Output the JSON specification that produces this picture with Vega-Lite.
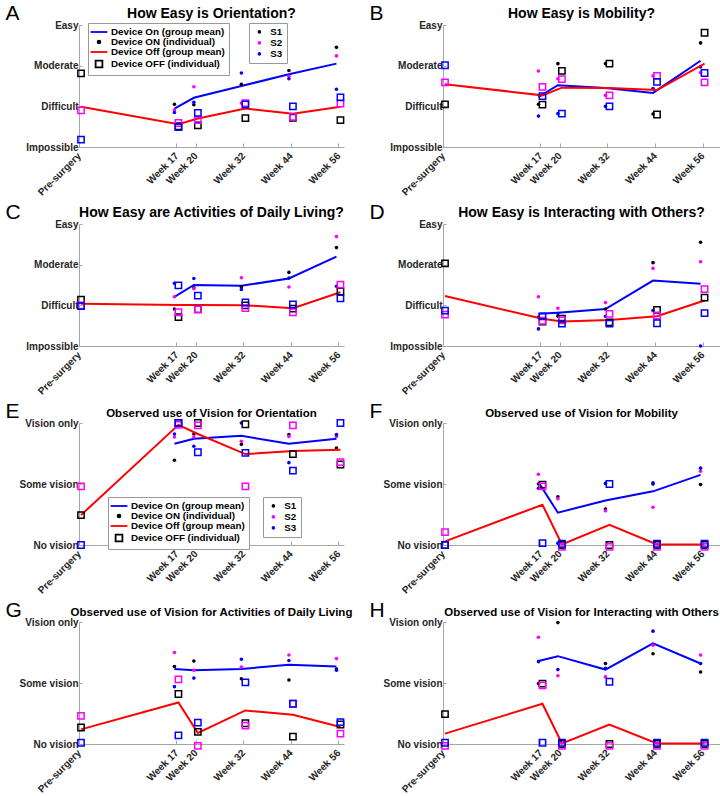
{
"$schema":"https://vega.github.io/schema/vega-lite/v6.json",
"padding":{"left":5,"top":2,"right":0,"bottom":0},
"background":"white",
"config":{
 "font":"Liberation Sans",
 "view":{"stroke":null},
 "axis":{"domainColor":"#a6a6a6","tickColor":"#a6a6a6","labelColor":"#262626","labelFont":"Liberation Sans","labelFontSize":10,"labelFontWeight":"bold","grid":false,"domainWidth":1},
 "axisY":{"tickSize":-3,"labelPadding":4,"titleAngle":0,"titleAlign":"left","titleBaseline":"alphabetic","titleX":-74,"titleY":-6,"titleFontSize":21,"titleFontWeight":"normal","titleColor":"#000000","titleFont":"Liberation Sans"},
 "axisX":{"labelAngle":-45,"labelAlign":"right","labelBaseline":"middle","labelPadding":11,"tickSize":-4,"title":null,"labelOverlap":false,"labelFlush":false},
 "title":{"font":"Liberation Sans","fontSize":14,"fontWeight":"bold","color":"#000000","offset":-19},
 "legend":{"fillColor":"#ffffff","strokeColor":"#999999","padding":4,"labelFont":"Liberation Sans","labelFontSize":9.8,"labelFontWeight":"bold","labelColor":"#000000","rowPadding":0}
},
"datasets":{
"pts":[
{"p":"A","d":"ON","s":"S1","x":15.1,"v":1.05},{"p":"A","d":"ON","s":"S1","x":20,"v":1.04},{"p":"A","d":"ON","s":"S1","x":32,"v":1.54},{"p":"A","d":"ON","s":"S1","x":44,"v":1.88},{"p":"A","d":"ON","s":"S1","x":56,"v":2.45},
{"p":"A","d":"ON","s":"S2","x":15.1,"v":0.91},{"p":"A","d":"ON","s":"S2","x":20,"v":1.48},{"p":"A","d":"ON","s":"S2","x":32,"v":1.08},{"p":"A","d":"ON","s":"S2","x":44,"v":1.74},{"p":"A","d":"ON","s":"S2","x":56,"v":2.24},
{"p":"A","d":"ON","s":"S3","x":15.1,"v":0.85},{"p":"A","d":"ON","s":"S3","x":20,"v":1.10},{"p":"A","d":"ON","s":"S3","x":32,"v":1.82},{"p":"A","d":"ON","s":"S3","x":44,"v":1.68},{"p":"A","d":"ON","s":"S3","x":56,"v":1.42},
{"p":"A","d":"OFF","s":"S1","x":-9.5,"v":1.81},{"p":"A","d":"OFF","s":"S1","x":15.1,"v":0.51},{"p":"A","d":"OFF","s":"S1","x":20,"v":0.53},{"p":"A","d":"OFF","s":"S1","x":32,"v":0.71},{"p":"A","d":"OFF","s":"S1","x":44,"v":0.72},{"p":"A","d":"OFF","s":"S1","x":56,"v":0.66},
{"p":"A","d":"OFF","s":"S2","x":-9.5,"v":0.90},{"p":"A","d":"OFF","s":"S2","x":15.1,"v":0.59},{"p":"A","d":"OFF","s":"S2","x":20,"v":0.66},{"p":"A","d":"OFF","s":"S2","x":32,"v":1.08},{"p":"A","d":"OFF","s":"S2","x":44,"v":0.74},{"p":"A","d":"OFF","s":"S2","x":56,"v":1.07},
{"p":"A","d":"OFF","s":"S3","x":-9.5,"v":0.18},{"p":"A","d":"OFF","s":"S3","x":15.1,"v":0.49},{"p":"A","d":"OFF","s":"S3","x":20,"v":0.84},{"p":"A","d":"OFF","s":"S3","x":32,"v":1.05},{"p":"A","d":"OFF","s":"S3","x":44,"v":1.00},{"p":"A","d":"OFF","s":"S3","x":56,"v":1.22},

{"p":"B","d":"ON","s":"S1","x":15.1,"v":1.05},{"p":"B","d":"ON","s":"S1","x":20,"v":2.05},{"p":"B","d":"ON","s":"S1","x":32,"v":2.05},{"p":"B","d":"ON","s":"S1","x":44,"v":0.81},{"p":"B","d":"ON","s":"S1","x":56,"v":2.56},
{"p":"B","d":"ON","s":"S2","x":15.1,"v":1.87},{"p":"B","d":"ON","s":"S2","x":20,"v":1.68},{"p":"B","d":"ON","s":"S2","x":32,"v":1.27},{"p":"B","d":"ON","s":"S2","x":44,"v":1.75},{"p":"B","d":"ON","s":"S2","x":56,"v":1.83},
{"p":"B","d":"ON","s":"S3","x":15.1,"v":0.76},{"p":"B","d":"ON","s":"S3","x":20,"v":0.82},{"p":"B","d":"ON","s":"S3","x":32,"v":1.00},{"p":"B","d":"ON","s":"S3","x":44,"v":1.44},{"p":"B","d":"ON","s":"S3","x":56,"v":1.97},
{"p":"B","d":"OFF","s":"S1","x":-9.5,"v":1.05},{"p":"B","d":"OFF","s":"S1","x":15.1,"v":1.04},{"p":"B","d":"OFF","s":"S1","x":20,"v":1.87},{"p":"B","d":"OFF","s":"S1","x":32,"v":2.05},{"p":"B","d":"OFF","s":"S1","x":44,"v":0.80},{"p":"B","d":"OFF","s":"S1","x":56,"v":2.81},
{"p":"B","d":"OFF","s":"S2","x":-9.5,"v":1.59},{"p":"B","d":"OFF","s":"S2","x":15.1,"v":1.48},{"p":"B","d":"OFF","s":"S2","x":20,"v":1.67},{"p":"B","d":"OFF","s":"S2","x":32,"v":1.27},{"p":"B","d":"OFF","s":"S2","x":44,"v":1.75},{"p":"B","d":"OFF","s":"S2","x":56,"v":1.59},
{"p":"B","d":"OFF","s":"S3","x":-9.5,"v":2.01},{"p":"B","d":"OFF","s":"S3","x":15.1,"v":1.25},{"p":"B","d":"OFF","s":"S3","x":20,"v":0.82},{"p":"B","d":"OFF","s":"S3","x":32,"v":1.00},{"p":"B","d":"OFF","s":"S3","x":44,"v":1.60},{"p":"B","d":"OFF","s":"S3","x":56,"v":1.82},

{"p":"C","d":"ON","s":"S1","x":15.1,"v":0.91},{"p":"C","d":"ON","s":"S1","x":20,"v":1.43},{"p":"C","d":"ON","s":"S1","x":32,"v":1.45},{"p":"C","d":"ON","s":"S1","x":44,"v":1.81},{"p":"C","d":"ON","s":"S1","x":56,"v":2.42},
{"p":"C","d":"ON","s":"S2","x":15.1,"v":1.21},{"p":"C","d":"ON","s":"S2","x":20,"v":1.41},{"p":"C","d":"ON","s":"S2","x":32,"v":1.68},{"p":"C","d":"ON","s":"S2","x":44,"v":1.45},{"p":"C","d":"ON","s":"S2","x":56,"v":2.69},
{"p":"C","d":"ON","s":"S3","x":15.1,"v":1.54},{"p":"C","d":"ON","s":"S3","x":20,"v":1.66},{"p":"C","d":"ON","s":"S3","x":32,"v":1.39},{"p":"C","d":"ON","s":"S3","x":44,"v":1.67},{"p":"C","d":"ON","s":"S3","x":56,"v":1.47},
{"p":"C","d":"OFF","s":"S1","x":-9.5,"v":1.14},{"p":"C","d":"OFF","s":"S1","x":15.1,"v":0.71},{"p":"C","d":"OFF","s":"S1","x":20,"v":0.90},{"p":"C","d":"OFF","s":"S1","x":32,"v":1.00},{"p":"C","d":"OFF","s":"S1","x":44,"v":0.92},{"p":"C","d":"OFF","s":"S1","x":56,"v":1.34},
{"p":"C","d":"OFF","s":"S2","x":-9.5,"v":1.00},{"p":"C","d":"OFF","s":"S2","x":15.1,"v":0.83},{"p":"C","d":"OFF","s":"S2","x":20,"v":0.90},{"p":"C","d":"OFF","s":"S2","x":32,"v":0.93},{"p":"C","d":"OFF","s":"S2","x":44,"v":0.83},{"p":"C","d":"OFF","s":"S2","x":56,"v":1.51},
{"p":"C","d":"OFF","s":"S3","x":-9.5,"v":0.98},{"p":"C","d":"OFF","s":"S3","x":15.1,"v":1.49},{"p":"C","d":"OFF","s":"S3","x":20,"v":1.24},{"p":"C","d":"OFF","s":"S3","x":32,"v":1.07},{"p":"C","d":"OFF","s":"S3","x":44,"v":1.02},{"p":"C","d":"OFF","s":"S3","x":56,"v":1.17},

{"p":"D","d":"ON","s":"S1","x":15.1,"v":0.71},{"p":"D","d":"ON","s":"S1","x":20,"v":0.73},{"p":"D","d":"ON","s":"S1","x":32,"v":0.91},{"p":"D","d":"ON","s":"S1","x":44,"v":2.05},{"p":"D","d":"ON","s":"S1","x":56,"v":2.55},
{"p":"D","d":"ON","s":"S2","x":15.1,"v":1.21},{"p":"D","d":"ON","s":"S2","x":20,"v":0.93},{"p":"D","d":"ON","s":"S2","x":32,"v":1.07},{"p":"D","d":"ON","s":"S2","x":44,"v":1.91},{"p":"D","d":"ON","s":"S2","x":56,"v":2.07},
{"p":"D","d":"ON","s":"S3","x":15.1,"v":0.42},{"p":"D","d":"ON","s":"S3","x":20,"v":0.80},{"p":"D","d":"ON","s":"S3","x":32,"v":0.73},{"p":"D","d":"ON","s":"S3","x":44,"v":0.87},{"p":"D","d":"ON","s":"S3","x":56,"v":0.00},
{"p":"D","d":"OFF","s":"S1","x":-9.5,"v":2.03},{"p":"D","d":"OFF","s":"S1","x":15.1,"v":0.60},{"p":"D","d":"OFF","s":"S1","x":20,"v":0.67},{"p":"D","d":"OFF","s":"S1","x":32,"v":0.58},{"p":"D","d":"OFF","s":"S1","x":44,"v":0.89},{"p":"D","d":"OFF","s":"S1","x":56,"v":1.19},
{"p":"D","d":"OFF","s":"S2","x":-9.5,"v":0.77},{"p":"D","d":"OFF","s":"S2","x":15.1,"v":0.62},{"p":"D","d":"OFF","s":"S2","x":20,"v":0.63},{"p":"D","d":"OFF","s":"S2","x":32,"v":0.79},{"p":"D","d":"OFF","s":"S2","x":44,"v":0.75},{"p":"D","d":"OFF","s":"S2","x":56,"v":1.40},
{"p":"D","d":"OFF","s":"S3","x":-9.5,"v":0.87},{"p":"D","d":"OFF","s":"S3","x":15.1,"v":0.73},{"p":"D","d":"OFF","s":"S3","x":20,"v":0.55},{"p":"D","d":"OFF","s":"S3","x":32,"v":0.55},{"p":"D","d":"OFF","s":"S3","x":44,"v":0.56},{"p":"D","d":"OFF","s":"S3","x":56,"v":0.81},

{"p":"E","d":"ON","s":"S1","x":15.1,"v":1.39},{"p":"E","d":"ON","s":"S1","x":20,"v":1.82},{"p":"E","d":"ON","s":"S1","x":32,"v":1.65},{"p":"E","d":"ON","s":"S1","x":44,"v":1.81},{"p":"E","d":"ON","s":"S1","x":56,"v":1.59},
{"p":"E","d":"ON","s":"S2","x":15.1,"v":1.77},{"p":"E","d":"ON","s":"S2","x":20,"v":1.77},{"p":"E","d":"ON","s":"S2","x":32,"v":1.70},{"p":"E","d":"ON","s":"S2","x":44,"v":1.78},{"p":"E","d":"ON","s":"S2","x":56,"v":1.78},
{"p":"E","d":"ON","s":"S3","x":15.1,"v":1.82},{"p":"E","d":"ON","s":"S3","x":20,"v":1.62},{"p":"E","d":"ON","s":"S3","x":32,"v":2.00},{"p":"E","d":"ON","s":"S3","x":44,"v":1.35},{"p":"E","d":"ON","s":"S3","x":56,"v":1.81},
{"p":"E","d":"OFF","s":"S1","x":-9.5,"v":0.49},{"p":"E","d":"OFF","s":"S1","x":15.1,"v":2.00},{"p":"E","d":"OFF","s":"S1","x":20,"v":2.00},{"p":"E","d":"OFF","s":"S1","x":32,"v":1.98},{"p":"E","d":"OFF","s":"S1","x":44,"v":1.49},{"p":"E","d":"OFF","s":"S1","x":56,"v":1.32},
{"p":"E","d":"OFF","s":"S2","x":-9.5,"v":0.96},{"p":"E","d":"OFF","s":"S2","x":15.1,"v":1.97},{"p":"E","d":"OFF","s":"S2","x":20,"v":1.96},{"p":"E","d":"OFF","s":"S2","x":32,"v":0.96},{"p":"E","d":"OFF","s":"S2","x":44,"v":1.96},{"p":"E","d":"OFF","s":"S2","x":56,"v":1.36},
{"p":"E","d":"OFF","s":"S3","x":-9.5,"v":0.00},{"p":"E","d":"OFF","s":"S3","x":15.1,"v":2.00},{"p":"E","d":"OFF","s":"S3","x":20,"v":1.52},{"p":"E","d":"OFF","s":"S3","x":32,"v":1.51},{"p":"E","d":"OFF","s":"S3","x":44,"v":1.22},{"p":"E","d":"OFF","s":"S3","x":56,"v":2.00},

{"p":"F","d":"ON","s":"S1","x":15.1,"v":1.00},{"p":"F","d":"ON","s":"S1","x":20,"v":0.79},{"p":"F","d":"ON","s":"S1","x":32,"v":0.59},{"p":"F","d":"ON","s":"S1","x":44,"v":1.00},{"p":"F","d":"ON","s":"S1","x":56,"v":0.99},
{"p":"F","d":"ON","s":"S2","x":15.1,"v":1.16},{"p":"F","d":"ON","s":"S2","x":20,"v":0.76},{"p":"F","d":"ON","s":"S2","x":32,"v":0.56},{"p":"F","d":"ON","s":"S2","x":44,"v":0.62},{"p":"F","d":"ON","s":"S2","x":56,"v":1.21},
{"p":"F","d":"ON","s":"S3","x":15.1,"v":0.93},{"p":"F","d":"ON","s":"S3","x":20,"v":0.03},{"p":"F","d":"ON","s":"S3","x":32,"v":1.01},{"p":"F","d":"ON","s":"S3","x":44,"v":1.02},{"p":"F","d":"ON","s":"S3","x":56,"v":1.26},
{"p":"F","d":"OFF","s":"S1","x":-9.5,"v":0.00},{"p":"F","d":"OFF","s":"S1","x":15.1,"v":0.99},{"p":"F","d":"OFF","s":"S1","x":20,"v":0.00},{"p":"F","d":"OFF","s":"S1","x":32,"v":0.00},{"p":"F","d":"OFF","s":"S1","x":44,"v":0.00},{"p":"F","d":"OFF","s":"S1","x":56,"v":0.00},
{"p":"F","d":"OFF","s":"S2","x":-9.5,"v":0.21},{"p":"F","d":"OFF","s":"S2","x":15.1,"v":0.96},{"p":"F","d":"OFF","s":"S2","x":20,"v":-0.03},{"p":"F","d":"OFF","s":"S2","x":32,"v":-0.03},{"p":"F","d":"OFF","s":"S2","x":44,"v":-0.03},{"p":"F","d":"OFF","s":"S2","x":56,"v":-0.03},
{"p":"F","d":"OFF","s":"S3","x":-9.5,"v":0.00},{"p":"F","d":"OFF","s":"S3","x":15.1,"v":0.03},{"p":"F","d":"OFF","s":"S3","x":20,"v":0.02},{"p":"F","d":"OFF","s":"S3","x":32,"v":1.00},{"p":"F","d":"OFF","s":"S3","x":44,"v":0.02},{"p":"F","d":"OFF","s":"S3","x":56,"v":0.02},

{"p":"G","d":"ON","s":"S1","x":15.1,"v":1.27},{"p":"G","d":"ON","s":"S1","x":20,"v":1.36},{"p":"G","d":"ON","s":"S1","x":32,"v":1.07},{"p":"G","d":"ON","s":"S1","x":44,"v":1.05},{"p":"G","d":"ON","s":"S1","x":56,"v":1.23},
{"p":"G","d":"ON","s":"S2","x":15.1,"v":1.50},{"p":"G","d":"ON","s":"S2","x":20,"v":1.21},{"p":"G","d":"ON","s":"S2","x":32,"v":1.26},{"p":"G","d":"ON","s":"S2","x":44,"v":1.46},{"p":"G","d":"ON","s":"S2","x":56,"v":1.40},
{"p":"G","d":"ON","s":"S3","x":15.1,"v":0.94},{"p":"G","d":"ON","s":"S3","x":20,"v":1.08},{"p":"G","d":"ON","s":"S3","x":32,"v":1.39},{"p":"G","d":"ON","s":"S3","x":44,"v":1.37},{"p":"G","d":"ON","s":"S3","x":56,"v":1.21},
{"p":"G","d":"OFF","s":"S1","x":-9.5,"v":0.27},{"p":"G","d":"OFF","s":"S1","x":15.1,"v":0.82},{"p":"G","d":"OFF","s":"S1","x":20,"v":0.20},{"p":"G","d":"OFF","s":"S1","x":32,"v":0.34},{"p":"G","d":"OFF","s":"S1","x":44,"v":0.12},{"p":"G","d":"OFF","s":"S1","x":56,"v":0.32},
{"p":"G","d":"OFF","s":"S2","x":-9.5,"v":0.46},{"p":"G","d":"OFF","s":"S2","x":15.1,"v":1.06},{"p":"G","d":"OFF","s":"S2","x":20,"v":-0.03},{"p":"G","d":"OFF","s":"S2","x":32,"v":0.30},{"p":"G","d":"OFF","s":"S2","x":44,"v":0.66},{"p":"G","d":"OFF","s":"S2","x":56,"v":0.17},
{"p":"G","d":"OFF","s":"S3","x":-9.5,"v":0.02},{"p":"G","d":"OFF","s":"S3","x":15.1,"v":0.14},{"p":"G","d":"OFF","s":"S3","x":20,"v":0.35},{"p":"G","d":"OFF","s":"S3","x":32,"v":1.01},{"p":"G","d":"OFF","s":"S3","x":44,"v":0.66},{"p":"G","d":"OFF","s":"S3","x":56,"v":0.36},

{"p":"H","d":"ON","s":"S1","x":15.1,"v":0.99},{"p":"H","d":"ON","s":"S1","x":20,"v":1.99},{"p":"H","d":"ON","s":"S1","x":32,"v":1.32},{"p":"H","d":"ON","s":"S1","x":44,"v":1.48},{"p":"H","d":"ON","s":"S1","x":56,"v":1.18},
{"p":"H","d":"ON","s":"S2","x":15.1,"v":1.75},{"p":"H","d":"ON","s":"S2","x":20,"v":1.12},{"p":"H","d":"ON","s":"S2","x":32,"v":1.10},{"p":"H","d":"ON","s":"S2","x":44,"v":1.62},{"p":"H","d":"ON","s":"S2","x":56,"v":1.46},
{"p":"H","d":"ON","s":"S3","x":15.1,"v":1.35},{"p":"H","d":"ON","s":"S3","x":20,"v":1.22},{"p":"H","d":"ON","s":"S3","x":32,"v":1.24},{"p":"H","d":"ON","s":"S3","x":44,"v":1.85},{"p":"H","d":"ON","s":"S3","x":56,"v":1.32},
{"p":"H","d":"OFF","s":"S1","x":-9.5,"v":0.49},{"p":"H","d":"OFF","s":"S1","x":15.1,"v":0.99},{"p":"H","d":"OFF","s":"S1","x":20,"v":0.00},{"p":"H","d":"OFF","s":"S1","x":32,"v":0.00},{"p":"H","d":"OFF","s":"S1","x":44,"v":0.00},{"p":"H","d":"OFF","s":"S1","x":56,"v":0.00},
{"p":"H","d":"OFF","s":"S2","x":-9.5,"v":-0.03},{"p":"H","d":"OFF","s":"S2","x":15.1,"v":0.96},{"p":"H","d":"OFF","s":"S2","x":20,"v":-0.03},{"p":"H","d":"OFF","s":"S2","x":32,"v":-0.03},{"p":"H","d":"OFF","s":"S2","x":44,"v":-0.03},{"p":"H","d":"OFF","s":"S2","x":56,"v":-0.03},
{"p":"H","d":"OFF","s":"S3","x":-9.5,"v":0.02},{"p":"H","d":"OFF","s":"S3","x":15.1,"v":0.02},{"p":"H","d":"OFF","s":"S3","x":20,"v":0.02},{"p":"H","d":"OFF","s":"S3","x":32,"v":1.02},{"p":"H","d":"OFF","s":"S3","x":44,"v":0.02},{"p":"H","d":"OFF","s":"S3","x":56,"v":0.02}
],
"mean":[
{"p":"A","d":"ON","x":15.1,"v":0.945},{"p":"A","d":"ON","x":20,"v":1.21},{"p":"A","d":"ON","x":32,"v":1.50},{"p":"A","d":"ON","x":44,"v":1.79},{"p":"A","d":"ON","x":56,"v":2.05},
{"p":"A","d":"OFF","x":-9.5,"v":0.99},{"p":"A","d":"OFF","x":15.1,"v":0.56},{"p":"A","d":"OFF","x":20,"v":0.70},{"p":"A","d":"OFF","x":32,"v":0.945},{"p":"A","d":"OFF","x":44,"v":0.82},{"p":"A","d":"OFF","x":56,"v":0.99},
{"p":"B","d":"ON","x":15.1,"v":1.23},{"p":"B","d":"ON","x":20,"v":1.52},{"p":"B","d":"ON","x":32,"v":1.45},{"p":"B","d":"ON","x":44,"v":1.33},{"p":"B","d":"ON","x":56,"v":2.12},
{"p":"B","d":"OFF","x":-9.5,"v":1.545},{"p":"B","d":"OFF","x":15.1,"v":1.27},{"p":"B","d":"OFF","x":20,"v":1.46},{"p":"B","d":"OFF","x":32,"v":1.45},{"p":"B","d":"OFF","x":44,"v":1.40},{"p":"B","d":"OFF","x":56,"v":2.05},
{"p":"C","d":"ON","x":15.1,"v":1.21},{"p":"C","d":"ON","x":20,"v":1.50},{"p":"C","d":"ON","x":32,"v":1.48},{"p":"C","d":"ON","x":44,"v":1.66},{"p":"C","d":"ON","x":56,"v":2.20},
{"p":"C","d":"OFF","x":-9.5,"v":1.04},{"p":"C","d":"OFF","x":15.1,"v":1.01},{"p":"C","d":"OFF","x":20,"v":1.01},{"p":"C","d":"OFF","x":32,"v":1.00},{"p":"C","d":"OFF","x":44,"v":0.93},{"p":"C","d":"OFF","x":56,"v":1.32},
{"p":"D","d":"ON","x":15.1,"v":0.79},{"p":"D","d":"ON","x":20,"v":0.82},{"p":"D","d":"ON","x":32,"v":0.91},{"p":"D","d":"ON","x":44,"v":1.61},{"p":"D","d":"ON","x":56,"v":1.53},
{"p":"D","d":"OFF","x":-9.5,"v":1.23},{"p":"D","d":"OFF","x":15.1,"v":0.67},{"p":"D","d":"OFF","x":20,"v":0.60},{"p":"D","d":"OFF","x":32,"v":0.64},{"p":"D","d":"OFF","x":44,"v":0.73},{"p":"D","d":"OFF","x":56,"v":1.12},
{"p":"E","d":"ON","x":15.1,"v":1.66},{"p":"E","d":"ON","x":20,"v":1.74},{"p":"E","d":"ON","x":32,"v":1.79},{"p":"E","d":"ON","x":44,"v":1.66},{"p":"E","d":"ON","x":56,"v":1.74},
{"p":"E","d":"OFF","x":-9.5,"v":0.49},{"p":"E","d":"OFF","x":15.1,"v":1.97},{"p":"E","d":"OFF","x":20,"v":1.82},{"p":"E","d":"OFF","x":32,"v":1.49},{"p":"E","d":"OFF","x":44,"v":1.54},{"p":"E","d":"OFF","x":56,"v":1.56},
{"p":"F","d":"ON","x":15.1,"v":1.03},{"p":"F","d":"ON","x":20,"v":0.53},{"p":"F","d":"ON","x":32,"v":0.73},{"p":"F","d":"ON","x":44,"v":0.88},{"p":"F","d":"ON","x":56,"v":1.15},
{"p":"F","d":"OFF","x":-9.5,"v":0.06},{"p":"F","d":"OFF","x":15.1,"v":0.66},{"p":"F","d":"OFF","x":20,"v":0.01},{"p":"F","d":"OFF","x":32,"v":0.33},{"p":"F","d":"OFF","x":44,"v":0.01},{"p":"F","d":"OFF","x":56,"v":0.01},
{"p":"G","d":"ON","x":15.1,"v":1.23},{"p":"G","d":"ON","x":20,"v":1.21},{"p":"G","d":"ON","x":32,"v":1.23},{"p":"G","d":"ON","x":44,"v":1.30},{"p":"G","d":"ON","x":56,"v":1.27},
{"p":"G","d":"OFF","x":-9.5,"v":0.24},{"p":"G","d":"OFF","x":15.1,"v":0.68},{"p":"G","d":"OFF","x":20,"v":0.18},{"p":"G","d":"OFF","x":32,"v":0.55},{"p":"G","d":"OFF","x":44,"v":0.48},{"p":"G","d":"OFF","x":56,"v":0.28},
{"p":"H","d":"ON","x":15.1,"v":1.36},{"p":"H","d":"ON","x":20,"v":1.44},{"p":"H","d":"ON","x":32,"v":1.22},{"p":"H","d":"ON","x":44,"v":1.65},{"p":"H","d":"ON","x":56,"v":1.32},
{"p":"H","d":"OFF","x":-9.5,"v":0.17},{"p":"H","d":"OFF","x":15.1,"v":0.66},{"p":"H","d":"OFF","x":20,"v":0.01},{"p":"H","d":"OFF","x":32,"v":0.32},{"p":"H","d":"OFF","x":44,"v":0.01},{"p":"H","d":"OFF","x":56,"v":0.01}
]
},
"columns":2,
"spacing":{"row":77,"column":99},
"bounds":"flush",
"align":"each",
"resolve":{"scale":{"color":"independent","shape":"independent","fill":"independent","stroke":"independent","size":"independent"}},
"concat":[
{"width":265,"height":122,"title":"How Easy is Orientation?",
 "encoding":{"x":{"field":"x","type":"quantitative","scale":{"domain":[-9.5,57.4],"nice":false,"zero":false},"axis":{"values":[-9.5,15.1,20,32,44,56],"labelExpr":"datum.value<0?'Pre-surgery':datum.value<16?'Week 17':'Week '+datum.value"}},
  "y":{"field":"v","type":"quantitative","scale":{"domain":[0,3],"nice":false,"zero":false},"axis":{"values":[0,1,2,3],"labelExpr":"['Impossible','Difficult','Moderate','Easy'][datum.value]","title":"A"}}},
 "layer":[
  {"data":{"name":"mean"},"transform":[{"filter":"datum.p=='A'&&datum.d=='ON'"}],"mark":{"type":"line","color":"#0000ff","strokeWidth":2,"xOffset":-2}},
  {"data":{"name":"pts"},"transform":[{"filter":"datum.p=='A'&&datum.d=='ON'"}],"mark":{"type":"point","filled":true,"size":13,"opacity":1,"xOffset":-2},"encoding":{"color":{"field":"s","type":"nominal","scale":{"domain":["S1","S2","S3"],"range":["#000000","#ff00ff","#0000ff"]},"legend":{"title":null,"orient":"none","legendX":170,"legendY":-2,"symbolType":"circle","symbolSize":13,"symbolStrokeWidth":0,"symbolOffset":1.5,"labelOffset":6}}}},
  {"data":{"name":"mean"},"transform":[{"filter":"datum.p=='A'&&datum.d=='OFF'"}],"mark":{"type":"line","color":"#ff0000","strokeWidth":2,"xOffset":2}},
  {"data":{"name":"pts"},"transform":[{"filter":"datum.p=='A'&&datum.d=='OFF'"}],"mark":{"type":"point","shape":"square","filled":false,"size":40,"strokeWidth":1.5,"opacity":1,"xOffset":2},"encoding":{"color":{"field":"s","type":"nominal","scale":{"domain":["S1","S2","S3"],"range":["#000000","#ff00ff","#0000ff"]},"legend":null}}},
  {"data":{"name":"mean"},"transform":[{"filter":"false"}],"mark":{"type":"point","opacity":1,"strokeWidth":1.8,"size":64},
   "encoding":{
    "shape":{"field":"lg","type":"nominal","scale":{"domain":["Device On (group mean)","Device ON (individual)","Device Off (group mean)","Device OFF (individual)"],"range":["M-2.1,0H2.1","M-0.35,0A0.35,0.35 0 1,0 0.35,0A0.35,0.35 0 1,0 -0.35,0Z","M-2.1,0H2.1","M-0.85,-0.85H0.85V0.85H-0.85Z"]},"legend":{"title":null,"orient":"none","legendX":9,"legendY":-2,"symbolSize":64,"symbolStrokeWidth":1.8,"symbolOffset":2,"labelOffset":7}},
    "stroke":{"field":"lg","type":"nominal","scale":{"domain":["Device On (group mean)","Device ON (individual)","Device Off (group mean)","Device OFF (individual)"],"range":["#0000ff","#000000","#ff0000","#000000"]},"legend":{"title":null,"orient":"none","legendX":9,"legendY":-2,"symbolSize":64,"symbolStrokeWidth":1.8,"symbolOffset":2,"labelOffset":7}},
    "fill":{"field":"lg","type":"nominal","scale":{"domain":["Device On (group mean)","Device ON (individual)","Device Off (group mean)","Device OFF (individual)"],"range":["transparent","#000000","transparent","transparent"]},"legend":{"title":null,"orient":"none","legendX":9,"legendY":-2,"symbolSize":64,"symbolStrokeWidth":1.8,"symbolOffset":2,"labelOffset":7}}
   }}
 ]},
{"width":277,"height":122,"title":"How Easy is Mobility?",
 "encoding":{"x":{"field":"x","type":"quantitative","scale":{"domain":[-9.5,60.4],"nice":false,"zero":false},"axis":{"values":[-9.5,15.1,20,32,44,56],"labelExpr":"datum.value<0?'Pre-surgery':datum.value<16?'Week 17':'Week '+datum.value"}},
  "y":{"field":"v","type":"quantitative","scale":{"domain":[0,3],"nice":false,"zero":false},"axis":{"values":[0,1,2,3],"labelExpr":"['Impossible','Difficult','Moderate','Easy'][datum.value]","title":"B"}}},
 "layer":[
  {"data":{"name":"mean"},"transform":[{"filter":"datum.p=='B'&&datum.d=='ON'"}],"mark":{"type":"line","color":"#0000ff","strokeWidth":2,"xOffset":-2}},
  {"data":{"name":"pts"},"transform":[{"filter":"datum.p=='B'&&datum.d=='ON'"}],"mark":{"type":"point","filled":true,"size":13,"opacity":1,"xOffset":-2},"encoding":{"color":{"field":"s","type":"nominal","scale":{"domain":["S1","S2","S3"],"range":["#000000","#ff00ff","#0000ff"]},"legend":null}}},
  {"data":{"name":"mean"},"transform":[{"filter":"datum.p=='B'&&datum.d=='OFF'"}],"mark":{"type":"line","color":"#ff0000","strokeWidth":2,"xOffset":2}},
  {"data":{"name":"pts"},"transform":[{"filter":"datum.p=='B'&&datum.d=='OFF'"}],"mark":{"type":"point","shape":"square","filled":false,"size":40,"strokeWidth":1.5,"opacity":1,"xOffset":2},"encoding":{"color":{"field":"s","type":"nominal","scale":{"domain":["S1","S2","S3"],"range":["#000000","#ff00ff","#0000ff"]},"legend":null}}}
 ]},
{"width":265,"height":122,"title":"How Easy are Activities of Daily Living?",
 "encoding":{"x":{"field":"x","type":"quantitative","scale":{"domain":[-9.5,57.4],"nice":false,"zero":false},"axis":{"values":[-9.5,15.1,20,32,44,56],"labelExpr":"datum.value<0?'Pre-surgery':datum.value<16?'Week 17':'Week '+datum.value"}},
  "y":{"field":"v","type":"quantitative","scale":{"domain":[0,3],"nice":false,"zero":false},"axis":{"values":[0,1,2,3],"labelExpr":"['Impossible','Difficult','Moderate','Easy'][datum.value]","title":"C"}}},
 "layer":[
  {"data":{"name":"mean"},"transform":[{"filter":"datum.p=='C'&&datum.d=='ON'"}],"mark":{"type":"line","color":"#0000ff","strokeWidth":2,"xOffset":-2}},
  {"data":{"name":"pts"},"transform":[{"filter":"datum.p=='C'&&datum.d=='ON'"}],"mark":{"type":"point","filled":true,"size":13,"opacity":1,"xOffset":-2},"encoding":{"color":{"field":"s","type":"nominal","scale":{"domain":["S1","S2","S3"],"range":["#000000","#ff00ff","#0000ff"]},"legend":null}}},
  {"data":{"name":"mean"},"transform":[{"filter":"datum.p=='C'&&datum.d=='OFF'"}],"mark":{"type":"line","color":"#ff0000","strokeWidth":2,"xOffset":2}},
  {"data":{"name":"pts"},"transform":[{"filter":"datum.p=='C'&&datum.d=='OFF'"}],"mark":{"type":"point","shape":"square","filled":false,"size":40,"strokeWidth":1.5,"opacity":1,"xOffset":2},"encoding":{"color":{"field":"s","type":"nominal","scale":{"domain":["S1","S2","S3"],"range":["#000000","#ff00ff","#0000ff"]},"legend":null}}}
 ]},
{"width":277,"height":122,"title":"How Easy is Interacting with Others?",
 "encoding":{"x":{"field":"x","type":"quantitative","scale":{"domain":[-9.5,60.4],"nice":false,"zero":false},"axis":{"values":[-9.5,15.1,20,32,44,56],"labelExpr":"datum.value<0?'Pre-surgery':datum.value<16?'Week 17':'Week '+datum.value"}},
  "y":{"field":"v","type":"quantitative","scale":{"domain":[0,3],"nice":false,"zero":false},"axis":{"values":[0,1,2,3],"labelExpr":"['Impossible','Difficult','Moderate','Easy'][datum.value]","title":"D"}}},
 "layer":[
  {"data":{"name":"mean"},"transform":[{"filter":"datum.p=='D'&&datum.d=='ON'"}],"mark":{"type":"line","color":"#0000ff","strokeWidth":2,"xOffset":-2}},
  {"data":{"name":"pts"},"transform":[{"filter":"datum.p=='D'&&datum.d=='ON'"}],"mark":{"type":"point","filled":true,"size":13,"opacity":1,"xOffset":-2},"encoding":{"color":{"field":"s","type":"nominal","scale":{"domain":["S1","S2","S3"],"range":["#000000","#ff00ff","#0000ff"]},"legend":null}}},
  {"data":{"name":"mean"},"transform":[{"filter":"datum.p=='D'&&datum.d=='OFF'"}],"mark":{"type":"line","color":"#ff0000","strokeWidth":2,"xOffset":2}},
  {"data":{"name":"pts"},"transform":[{"filter":"datum.p=='D'&&datum.d=='OFF'"}],"mark":{"type":"point","shape":"square","filled":false,"size":40,"strokeWidth":1.5,"opacity":1,"xOffset":2},"encoding":{"color":{"field":"s","type":"nominal","scale":{"domain":["S1","S2","S3"],"range":["#000000","#ff00ff","#0000ff"]},"legend":null}}}
 ]},
{"width":265,"height":122,"title":{"text":"Observed use of Vision for Orientation","fontSize":11.5},
 "encoding":{"x":{"field":"x","type":"quantitative","scale":{"domain":[-9.5,57.4],"nice":false,"zero":false},"axis":{"values":[-9.5,15.1,20,32,44,56],"labelExpr":"datum.value<0?'Pre-surgery':datum.value<16?'Week 17':'Week '+datum.value"}},
  "y":{"field":"v","type":"quantitative","scale":{"domain":[0,2],"nice":false,"zero":false},"axis":{"values":[0,1,2],"labelExpr":"['No vision','Some vision','Vision only'][datum.value]","title":"E"}}},
 "layer":[
  {"data":{"name":"mean"},"transform":[{"filter":"datum.p=='E'&&datum.d=='ON'"}],"mark":{"type":"line","color":"#0000ff","strokeWidth":2,"xOffset":-2}},
  {"data":{"name":"pts"},"transform":[{"filter":"datum.p=='E'&&datum.d=='ON'"}],"mark":{"type":"point","filled":true,"size":13,"opacity":1,"xOffset":-2},"encoding":{"color":{"field":"s","type":"nominal","scale":{"domain":["S1","S2","S3"],"range":["#000000","#ff00ff","#0000ff"]},"legend":{"title":null,"orient":"none","legendX":184,"legendY":74,"symbolType":"circle","symbolSize":13,"symbolStrokeWidth":0,"symbolOffset":1.5,"labelOffset":6}}}},
  {"data":{"name":"mean"},"transform":[{"filter":"datum.p=='E'&&datum.d=='OFF'"}],"mark":{"type":"line","color":"#ff0000","strokeWidth":2,"xOffset":2}},
  {"data":{"name":"pts"},"transform":[{"filter":"datum.p=='E'&&datum.d=='OFF'"}],"mark":{"type":"point","shape":"square","filled":false,"size":40,"strokeWidth":1.5,"opacity":1,"xOffset":2},"encoding":{"color":{"field":"s","type":"nominal","scale":{"domain":["S1","S2","S3"],"range":["#000000","#ff00ff","#0000ff"]},"legend":null}}},
  {"data":{"name":"mean"},"transform":[{"filter":"false"}],"mark":{"type":"point","opacity":1,"strokeWidth":1.8,"size":64},
   "encoding":{
    "shape":{"field":"lg","type":"nominal","scale":{"domain":["Device On (group mean)","Device ON (individual)","Device Off (group mean)","Device OFF (individual)"],"range":["M-2.1,0H2.1","M-0.35,0A0.35,0.35 0 1,0 0.35,0A0.35,0.35 0 1,0 -0.35,0Z","M-2.1,0H2.1","M-0.85,-0.85H0.85V0.85H-0.85Z"]},"legend":{"title":null,"orient":"none","legendX":29,"legendY":74,"symbolSize":64,"symbolStrokeWidth":1.8,"symbolOffset":2,"labelOffset":7}},
    "stroke":{"field":"lg","type":"nominal","scale":{"domain":["Device On (group mean)","Device ON (individual)","Device Off (group mean)","Device OFF (individual)"],"range":["#0000ff","#000000","#ff0000","#000000"]},"legend":{"title":null,"orient":"none","legendX":29,"legendY":74,"symbolSize":64,"symbolStrokeWidth":1.8,"symbolOffset":2,"labelOffset":7}},
    "fill":{"field":"lg","type":"nominal","scale":{"domain":["Device On (group mean)","Device ON (individual)","Device Off (group mean)","Device OFF (individual)"],"range":["transparent","#000000","transparent","transparent"]},"legend":{"title":null,"orient":"none","legendX":29,"legendY":74,"symbolSize":64,"symbolStrokeWidth":1.8,"symbolOffset":2,"labelOffset":7}}
   }}
 ]},
{"width":277,"height":122,"title":{"text":"Observed use of Vision for Mobility","fontSize":11.5},
 "encoding":{"x":{"field":"x","type":"quantitative","scale":{"domain":[-9.5,60.4],"nice":false,"zero":false},"axis":{"values":[-9.5,15.1,20,32,44,56],"labelExpr":"datum.value<0?'Pre-surgery':datum.value<16?'Week 17':'Week '+datum.value"}},
  "y":{"field":"v","type":"quantitative","scale":{"domain":[0,2],"nice":false,"zero":false},"axis":{"values":[0,1,2],"labelExpr":"['No vision','Some vision','Vision only'][datum.value]","title":"F"}}},
 "layer":[
  {"data":{"name":"mean"},"transform":[{"filter":"datum.p=='F'&&datum.d=='ON'"}],"mark":{"type":"line","color":"#0000ff","strokeWidth":2,"xOffset":-2}},
  {"data":{"name":"pts"},"transform":[{"filter":"datum.p=='F'&&datum.d=='ON'"}],"mark":{"type":"point","filled":true,"size":13,"opacity":1,"xOffset":-2},"encoding":{"color":{"field":"s","type":"nominal","scale":{"domain":["S1","S2","S3"],"range":["#000000","#ff00ff","#0000ff"]},"legend":null}}},
  {"data":{"name":"mean"},"transform":[{"filter":"datum.p=='F'&&datum.d=='OFF'"}],"mark":{"type":"line","color":"#ff0000","strokeWidth":2,"xOffset":2}},
  {"data":{"name":"pts"},"transform":[{"filter":"datum.p=='F'&&datum.d=='OFF'"}],"mark":{"type":"point","shape":"square","filled":false,"size":40,"strokeWidth":1.5,"opacity":1,"xOffset":2},"encoding":{"color":{"field":"s","type":"nominal","scale":{"domain":["S1","S2","S3"],"range":["#000000","#ff00ff","#0000ff"]},"legend":null}}}
 ]},
{"width":265,"height":122,"title":{"text":"Observed use of Vision for Activities of Daily Living","fontSize":11.5},
 "encoding":{"x":{"field":"x","type":"quantitative","scale":{"domain":[-9.5,57.4],"nice":false,"zero":false},"axis":{"values":[-9.5,15.1,20,32,44,56],"labelExpr":"datum.value<0?'Pre-surgery':datum.value<16?'Week 17':'Week '+datum.value"}},
  "y":{"field":"v","type":"quantitative","scale":{"domain":[0,2],"nice":false,"zero":false},"axis":{"values":[0,1,2],"labelExpr":"['No vision','Some vision','Vision only'][datum.value]","title":"G"}}},
 "layer":[
  {"data":{"name":"mean"},"transform":[{"filter":"datum.p=='G'&&datum.d=='ON'"}],"mark":{"type":"line","color":"#0000ff","strokeWidth":2,"xOffset":-2}},
  {"data":{"name":"pts"},"transform":[{"filter":"datum.p=='G'&&datum.d=='ON'"}],"mark":{"type":"point","filled":true,"size":13,"opacity":1,"xOffset":-2},"encoding":{"color":{"field":"s","type":"nominal","scale":{"domain":["S1","S2","S3"],"range":["#000000","#ff00ff","#0000ff"]},"legend":null}}},
  {"data":{"name":"mean"},"transform":[{"filter":"datum.p=='G'&&datum.d=='OFF'"}],"mark":{"type":"line","color":"#ff0000","strokeWidth":2,"xOffset":2}},
  {"data":{"name":"pts"},"transform":[{"filter":"datum.p=='G'&&datum.d=='OFF'"}],"mark":{"type":"point","shape":"square","filled":false,"size":40,"strokeWidth":1.5,"opacity":1,"xOffset":2},"encoding":{"color":{"field":"s","type":"nominal","scale":{"domain":["S1","S2","S3"],"range":["#000000","#ff00ff","#0000ff"]},"legend":null}}}
 ]},
{"width":277,"height":122,"title":{"text":"Observed use of Vision for Interacting with Others","fontSize":11.5},
 "encoding":{"x":{"field":"x","type":"quantitative","scale":{"domain":[-9.5,60.4],"nice":false,"zero":false},"axis":{"values":[-9.5,15.1,20,32,44,56],"labelExpr":"datum.value<0?'Pre-surgery':datum.value<16?'Week 17':'Week '+datum.value"}},
  "y":{"field":"v","type":"quantitative","scale":{"domain":[0,2],"nice":false,"zero":false},"axis":{"values":[0,1,2],"labelExpr":"['No vision','Some vision','Vision only'][datum.value]","title":"H"}}},
 "layer":[
  {"data":{"name":"mean"},"transform":[{"filter":"datum.p=='H'&&datum.d=='ON'"}],"mark":{"type":"line","color":"#0000ff","strokeWidth":2,"xOffset":-2}},
  {"data":{"name":"pts"},"transform":[{"filter":"datum.p=='H'&&datum.d=='ON'"}],"mark":{"type":"point","filled":true,"size":13,"opacity":1,"xOffset":-2},"encoding":{"color":{"field":"s","type":"nominal","scale":{"domain":["S1","S2","S3"],"range":["#000000","#ff00ff","#0000ff"]},"legend":null}}},
  {"data":{"name":"mean"},"transform":[{"filter":"datum.p=='H'&&datum.d=='OFF'"}],"mark":{"type":"line","color":"#ff0000","strokeWidth":2,"xOffset":2}},
  {"data":{"name":"pts"},"transform":[{"filter":"datum.p=='H'&&datum.d=='OFF'"}],"mark":{"type":"point","shape":"square","filled":false,"size":40,"strokeWidth":1.5,"opacity":1,"xOffset":2},"encoding":{"color":{"field":"s","type":"nominal","scale":{"domain":["S1","S2","S3"],"range":["#000000","#ff00ff","#0000ff"]},"legend":null}}}
 ]}
]
}
